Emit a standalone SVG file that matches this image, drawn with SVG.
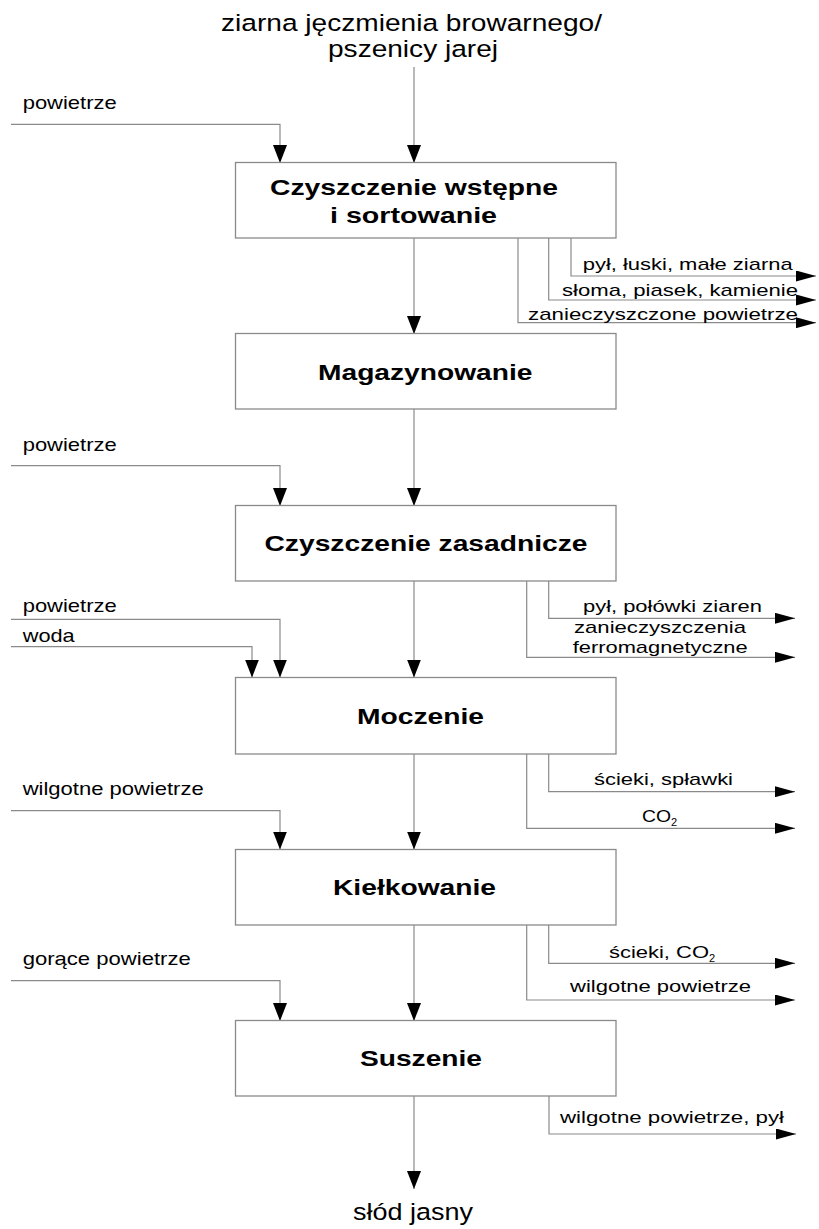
<svg xmlns="http://www.w3.org/2000/svg" width="819" height="1229" viewBox="0 0 819 1229">
<style>
.box{fill:#fff;stroke:#8a8a8a;stroke-width:1.3}
.ln{fill:none;stroke:#8a8a8a;stroke-width:1.2}
.lv{marker-end:url(#arrV)}
.lh{marker-end:url(#arrH)}
.t{font-family:"Liberation Sans",Arial,sans-serif;fill:#000}
.title{font-size:24.5px}
.lbl{font-size:18.5px}
.rl{font-size:17px}
.sub{font-size:11px}
.bx{font-size:22px;font-weight:bold}
</style>
<defs>
<marker id="arrV" markerUnits="userSpaceOnUse" markerWidth="18" markerHeight="14" refX="18" refY="7" orient="auto" viewBox="0 0 18 14">
<path d="M0,0 L18,7 L0,14 z" fill="#000"/>
</marker>
<marker id="arrH" markerUnits="userSpaceOnUse" markerWidth="20" markerHeight="11" refX="20" refY="5.5" orient="auto" viewBox="0 0 20 11">
<path d="M0,0 L20,5.5 L0,11 z" fill="#000"/>
</marker>
</defs>
<rect width="819" height="1229" fill="#fff"/>

<g id="connectors">
<path class="ln lv" d="M414,67 V163"/>
<path class="ln lv" d="M11,124.3 H280 V163"/>
<path class="ln lv" d="M414,238 V334"/>
<path class="ln lh" d="M571,238 V276 H816"/>
<path class="ln lh" d="M548.7,238 V300 H816"/>
<path class="ln lh" d="M518,238 V322.7 H816"/>
<path class="ln lv" d="M414,409 V506"/>
<path class="ln lv" d="M11,465.7 H280 V506"/>
<path class="ln lv" d="M414,581 V677.5"/>
<path class="ln lh" d="M548.7,581 V618.3 H795"/>
<path class="ln lh" d="M526.7,581 V657.3 H795"/>
<path class="ln lv" d="M11,619.3 H280 V677.5"/>
<path class="ln lv" d="M11,646.7 H252 V677.5"/>
<path class="ln lv" d="M414,754 V849.5"/>
<path class="ln lh" d="M548.7,754 V791.7 H795"/>
<path class="ln lh" d="M526.7,754 V828.3 H795"/>
<path class="ln lv" d="M11,810.7 H280 V849.5"/>
<path class="ln lv" d="M414,925 V1021"/>
<path class="ln lh" d="M548.7,925 V963.3 H795"/>
<path class="ln lh" d="M526.7,925 V1000 H795"/>
<path class="ln lv" d="M11,980.7 H280 V1021"/>
<path class="ln lv" d="M414,1096 V1189"/>
<path class="ln lh" d="M549,1096 V1134 H796"/>
</g>

<g id="input-grain">
<text class="t title" x="221" y="30.5" textLength="381" lengthAdjust="spacingAndGlyphs">ziarna jęczmienia browarnego/</text>
<text class="t title" x="328" y="56.5" textLength="170" lengthAdjust="spacingAndGlyphs">pszenicy jarej</text>
</g>

<g id="node-czyszczenie-wstepne">
<rect class="box" x="235.5" y="162.5" width="380.5" height="75.5"/>
<text class="t bx" x="270" y="195" textLength="288" lengthAdjust="spacingAndGlyphs">Czyszczenie wstępne</text>
<text class="t bx" x="330" y="222.5" textLength="167" lengthAdjust="spacingAndGlyphs">i sortowanie</text>
</g>

<g id="node-magazynowanie">
<rect class="box" x="235.5" y="333.5" width="380.5" height="75.5"/>
<text class="t bx" x="318" y="380" textLength="214.5" lengthAdjust="spacingAndGlyphs">Magazynowanie</text>
</g>

<g id="node-czyszczenie-zasadnicze">
<rect class="box" x="235.5" y="505.5" width="380.5" height="75.5"/>
<text class="t bx" x="264.5" y="551" textLength="323" lengthAdjust="spacingAndGlyphs">Czyszczenie zasadnicze</text>
</g>

<g id="node-moczenie">
<rect class="box" x="235.5" y="677.5" width="380.5" height="76.5"/>
<text class="t bx" x="357" y="723.5" textLength="127" lengthAdjust="spacingAndGlyphs">Moczenie</text>
</g>

<g id="node-kielkowanie">
<rect class="box" x="235.5" y="849.5" width="380.5" height="75.5"/>
<text class="t bx" x="333" y="895" textLength="163" lengthAdjust="spacingAndGlyphs">Kiełkowanie</text>
</g>

<g id="node-suszenie">
<rect class="box" x="235.5" y="1020.5" width="380.5" height="75.5"/>
<text class="t bx" x="360" y="1066" textLength="122" lengthAdjust="spacingAndGlyphs">Suszenie</text>
</g>

<g id="input-labels">
<text class="t lbl" x="22.7" y="109.3" textLength="94" lengthAdjust="spacingAndGlyphs">powietrze</text>
<text class="t lbl" x="22.7" y="450.5" textLength="94" lengthAdjust="spacingAndGlyphs">powietrze</text>
<text class="t lbl" x="22.7" y="612.3" textLength="94" lengthAdjust="spacingAndGlyphs">powietrze</text>
<text class="t lbl" x="22.7" y="641.7" textLength="52" lengthAdjust="spacingAndGlyphs">woda</text>
<text class="t lbl" x="22.7" y="795.3" textLength="181" lengthAdjust="spacingAndGlyphs">wilgotne powietrze</text>
<text class="t lbl" x="22.7" y="965.3" textLength="168" lengthAdjust="spacingAndGlyphs">gorące powietrze</text>
</g>

<g id="output-labels">
<text class="t rl" x="582.7" y="270" textLength="210" lengthAdjust="spacingAndGlyphs">pył, łuski, małe ziarna</text>
<text class="t rl" x="562" y="296" textLength="236" lengthAdjust="spacingAndGlyphs">słoma, piasek, kamienie</text>
<text class="t rl" x="528" y="320" textLength="270" lengthAdjust="spacingAndGlyphs">zanieczyszczone powietrze</text>
<text class="t rl" x="583" y="611.7" textLength="179" lengthAdjust="spacingAndGlyphs">pył, połówki ziaren</text>
<text class="t rl" x="574" y="633" textLength="172" lengthAdjust="spacingAndGlyphs">zanieczyszczenia</text>
<text class="t rl" x="572.7" y="652.7" textLength="175" lengthAdjust="spacingAndGlyphs">ferromagnetyczne</text>
<text class="t rl" x="594" y="785" textLength="139" lengthAdjust="spacingAndGlyphs">ścieki, spławki</text>
<text class="t rl" x="642" y="821.7"><tspan textLength="29" lengthAdjust="spacingAndGlyphs">CO</tspan><tspan class="sub" x="671" y="825.5">2</tspan></text>
<text class="t rl" x="609" y="958"><tspan textLength="100" lengthAdjust="spacingAndGlyphs">ścieki, CO</tspan><tspan class="sub" x="709" y="962">2</tspan></text>
<text class="t rl" x="570" y="991.7" textLength="181" lengthAdjust="spacingAndGlyphs">wilgotne powietrze</text>
<text class="t rl" x="560" y="1123.3" textLength="224" lengthAdjust="spacingAndGlyphs">wilgotne powietrze, pył</text>
</g>

<g id="output-product">
<text class="t title" x="353" y="1220" textLength="120" lengthAdjust="spacingAndGlyphs">słód jasny</text>
</g>
</svg>
